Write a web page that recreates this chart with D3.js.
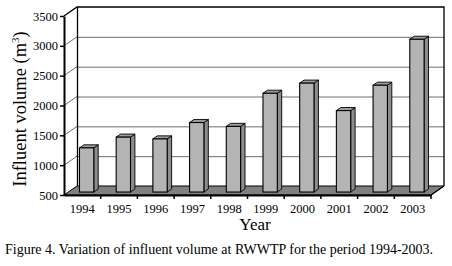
<!DOCTYPE html>
<html>
<head>
<meta charset="utf-8">
<script src="https://cdn.jsdelivr.net/npm/d3@7"></script>
<style>
  body { margin: 0; background: #fff; }
  svg text { font-family: "Times New Roman", "Liberation Serif", serif; fill: #000; }
</style>
</head>
<body>
<div id="chart"></div>
<script>
// data
const years = ["1994", "1995", "1996", "1997", "1998", "1999", "2000", "2001", "2002", "2003"];
const volumes = [1240, 1420, 1390, 1665, 1600, 2155, 2325, 1865, 2290, 3060];
const yTicks = [500, 1000, 1500, 2000, 2500, 3000, 3500];

const width = 452, height = 266;
const serif = "'Times New Roman', 'Liberation Serif', serif";

// 3d depth offset of the plot box, and where the bars sit inside it
const DX = 13, DY = -9;
const f0 = 0.33, f1 = 0.67;

const svg = d3.select("#chart").append("svg")
    .attr("width", width)
    .attr("height", height)
    .attr("font-family", serif);

const x = d3.scaleBand()
    .domain(years)
    .range([64, 431])
    .padding(0);

const y = d3.scaleLinear()
    .domain([500, 3500])
    .range([195, 16]);

const xLeft = x.range()[0], xRight = x.range()[1];
const yTop = y(3500), yBot = y(500);

// back wall
svg.append("rect")
    .attr("x", xLeft + DX)
    .attr("y", yTop + DY)
    .attr("width", xRight - xLeft)
    .attr("height", yBot - yTop)
    .attr("fill", "#fff");

// gridlines: back wall + side wall diagonals
const grid = svg.append("g").attr("stroke", "#6e6e6e").attr("stroke-width", 1);
grid.selectAll("line.back")
    .data(yTicks.slice(1, -1))
    .join("line")
    .attr("class", "back")
    .attr("x1", xLeft + DX).attr("x2", xRight + DX)
    .attr("y1", d => y(d) + DY + 0.5).attr("y2", d => y(d) + DY + 0.5);
grid.selectAll("line.side")
    .data(yTicks.slice(1, -1))
    .join("line")
    .attr("class", "side")
    .attr("x1", xLeft).attr("x2", xLeft + DX)
    .attr("y1", d => y(d)).attr("y2", d => y(d) + DY);

// wall outline
svg.append("path")
    .attr("d", `M${xLeft},${yTop} L${xLeft + DX},${yTop + DY} L${xRight + DX},${yTop + DY} L${xRight + DX},${yBot + DY}
                M${xLeft + DX + 0.5},${yTop + DY} L${xLeft + DX + 0.5},${yBot + DY}`)
    .attr("fill", "none")
    .attr("stroke", "#000")
    .attr("stroke-width", 1.3);

// floor
svg.append("path")
    .attr("d", `M${xLeft},${yBot} L${xRight},${yBot} L${xRight + DX},${yBot + DY} L${xLeft + DX},${yBot + DY} Z`)
    .attr("fill", "#808080")
    .attr("stroke", "#000")
    .attr("stroke-width", 1);

// bars
const bw = x.bandwidth() * 0.39;
const bars = svg.append("g")
    .selectAll("g")
    .data(years.map((yr, i) => ({ yr, v: volumes[i] })))
    .join("g");

function barX(d) { return x(d.yr) + (x.bandwidth() - bw) / 2; }

bars.append("path") // side
    .attr("d", d => {
        const bx = barX(d) + bw, yt = y(d.v), yb = y(500);
        return `M${bx + f0 * DX},${yt + f0 * DY} L${bx + f1 * DX},${yt + f1 * DY} L${bx + f1 * DX},${yb + f1 * DY} L${bx + f0 * DX},${yb + f0 * DY} Z`;
    })
    .attr("fill", "#8c8c8c")
    .attr("stroke", "#000")
    .attr("stroke-width", 0.9);

bars.append("path") // top
    .attr("d", d => {
        const bx = barX(d), yt = y(d.v);
        return `M${bx + f0 * DX},${yt + f0 * DY} L${bx + bw + f0 * DX},${yt + f0 * DY} L${bx + bw + f1 * DX},${yt + f1 * DY} L${bx + f1 * DX},${yt + f1 * DY} Z`;
    })
    .attr("fill", "#9e9e9e")
    .attr("stroke", "#000")
    .attr("stroke-width", 0.9);

bars.append("rect") // front
    .attr("x", d => barX(d) + f0 * DX)
    .attr("y", d => y(d.v) + f0 * DY)
    .attr("width", bw)
    .attr("height", d => y(500) - y(d.v))
    .attr("fill", "#b4b4b4")
    .attr("stroke", "#000")
    .attr("stroke-width", 1.1);

// Y axis
const yAxis = svg.append("g")
    .attr("transform", `translate(${xLeft},0)`)
    .call(d3.axisLeft(y).tickValues(yTicks).tickFormat(d3.format("d")).tickSize(4).tickSizeOuter(0).tickPadding(2))
    .attr("font-family", serif);
yAxis.select(".domain").attr("stroke", "#000").attr("stroke-width", 2);
yAxis.selectAll(".tick line").attr("stroke-width", 1.5);
yAxis.selectAll("text").style("font-size", "12.5px");

// X axis (labels at band centers, ticks at band edges)
const xAxis = svg.append("g")
    .attr("transform", `translate(0,${yBot})`)
    .call(d3.axisBottom(x).tickSize(0).tickPadding(9))
    .attr("font-family", serif);
xAxis.select(".domain").attr("stroke", "#000").attr("stroke-width", 2);
xAxis.selectAll("text").style("font-size", "12.5px");
xAxis.selectAll("line.edge")
    .data(years.slice(1).map(d => x(d)).concat([xRight]))
    .join("line")
    .attr("class", "edge")
    .attr("x1", d => d).attr("x2", d => d)
    .attr("y1", 0).attr("y2", 4)
    .attr("stroke", "#000")
    .attr("stroke-width", 1.5);
// floor right edge
svg.append("line")
    .attr("x1", xRight).attr("y1", yBot)
    .attr("x2", xRight + DX).attr("y2", yBot + DY)
    .attr("stroke", "#000").attr("stroke-width", 1.2);

// axis titles
const yTitle = svg.append("text")
    .attr("transform", "translate(26,109) rotate(-90)")
    .attr("text-anchor", "middle")
    .style("font-size", "18.5px");
yTitle.append("tspan").text("Influent volume (m");
yTitle.append("tspan").attr("dy", -7).style("font-size", "11px").text("3");
yTitle.append("tspan").attr("dy", 7).text(")");

svg.append("text")
    .attr("x", 255)
    .attr("y", 230)
    .attr("text-anchor", "middle")
    .style("font-size", "17px")
    .text("Year");

// caption
svg.append("text")
    .attr("x", 5)
    .attr("y", 254)
    .style("font-size", "14px")
    .text("Figure 4. Variation of influent volume at RWWTP for the period 1994-2003.");
</script>
</body>
</html>
